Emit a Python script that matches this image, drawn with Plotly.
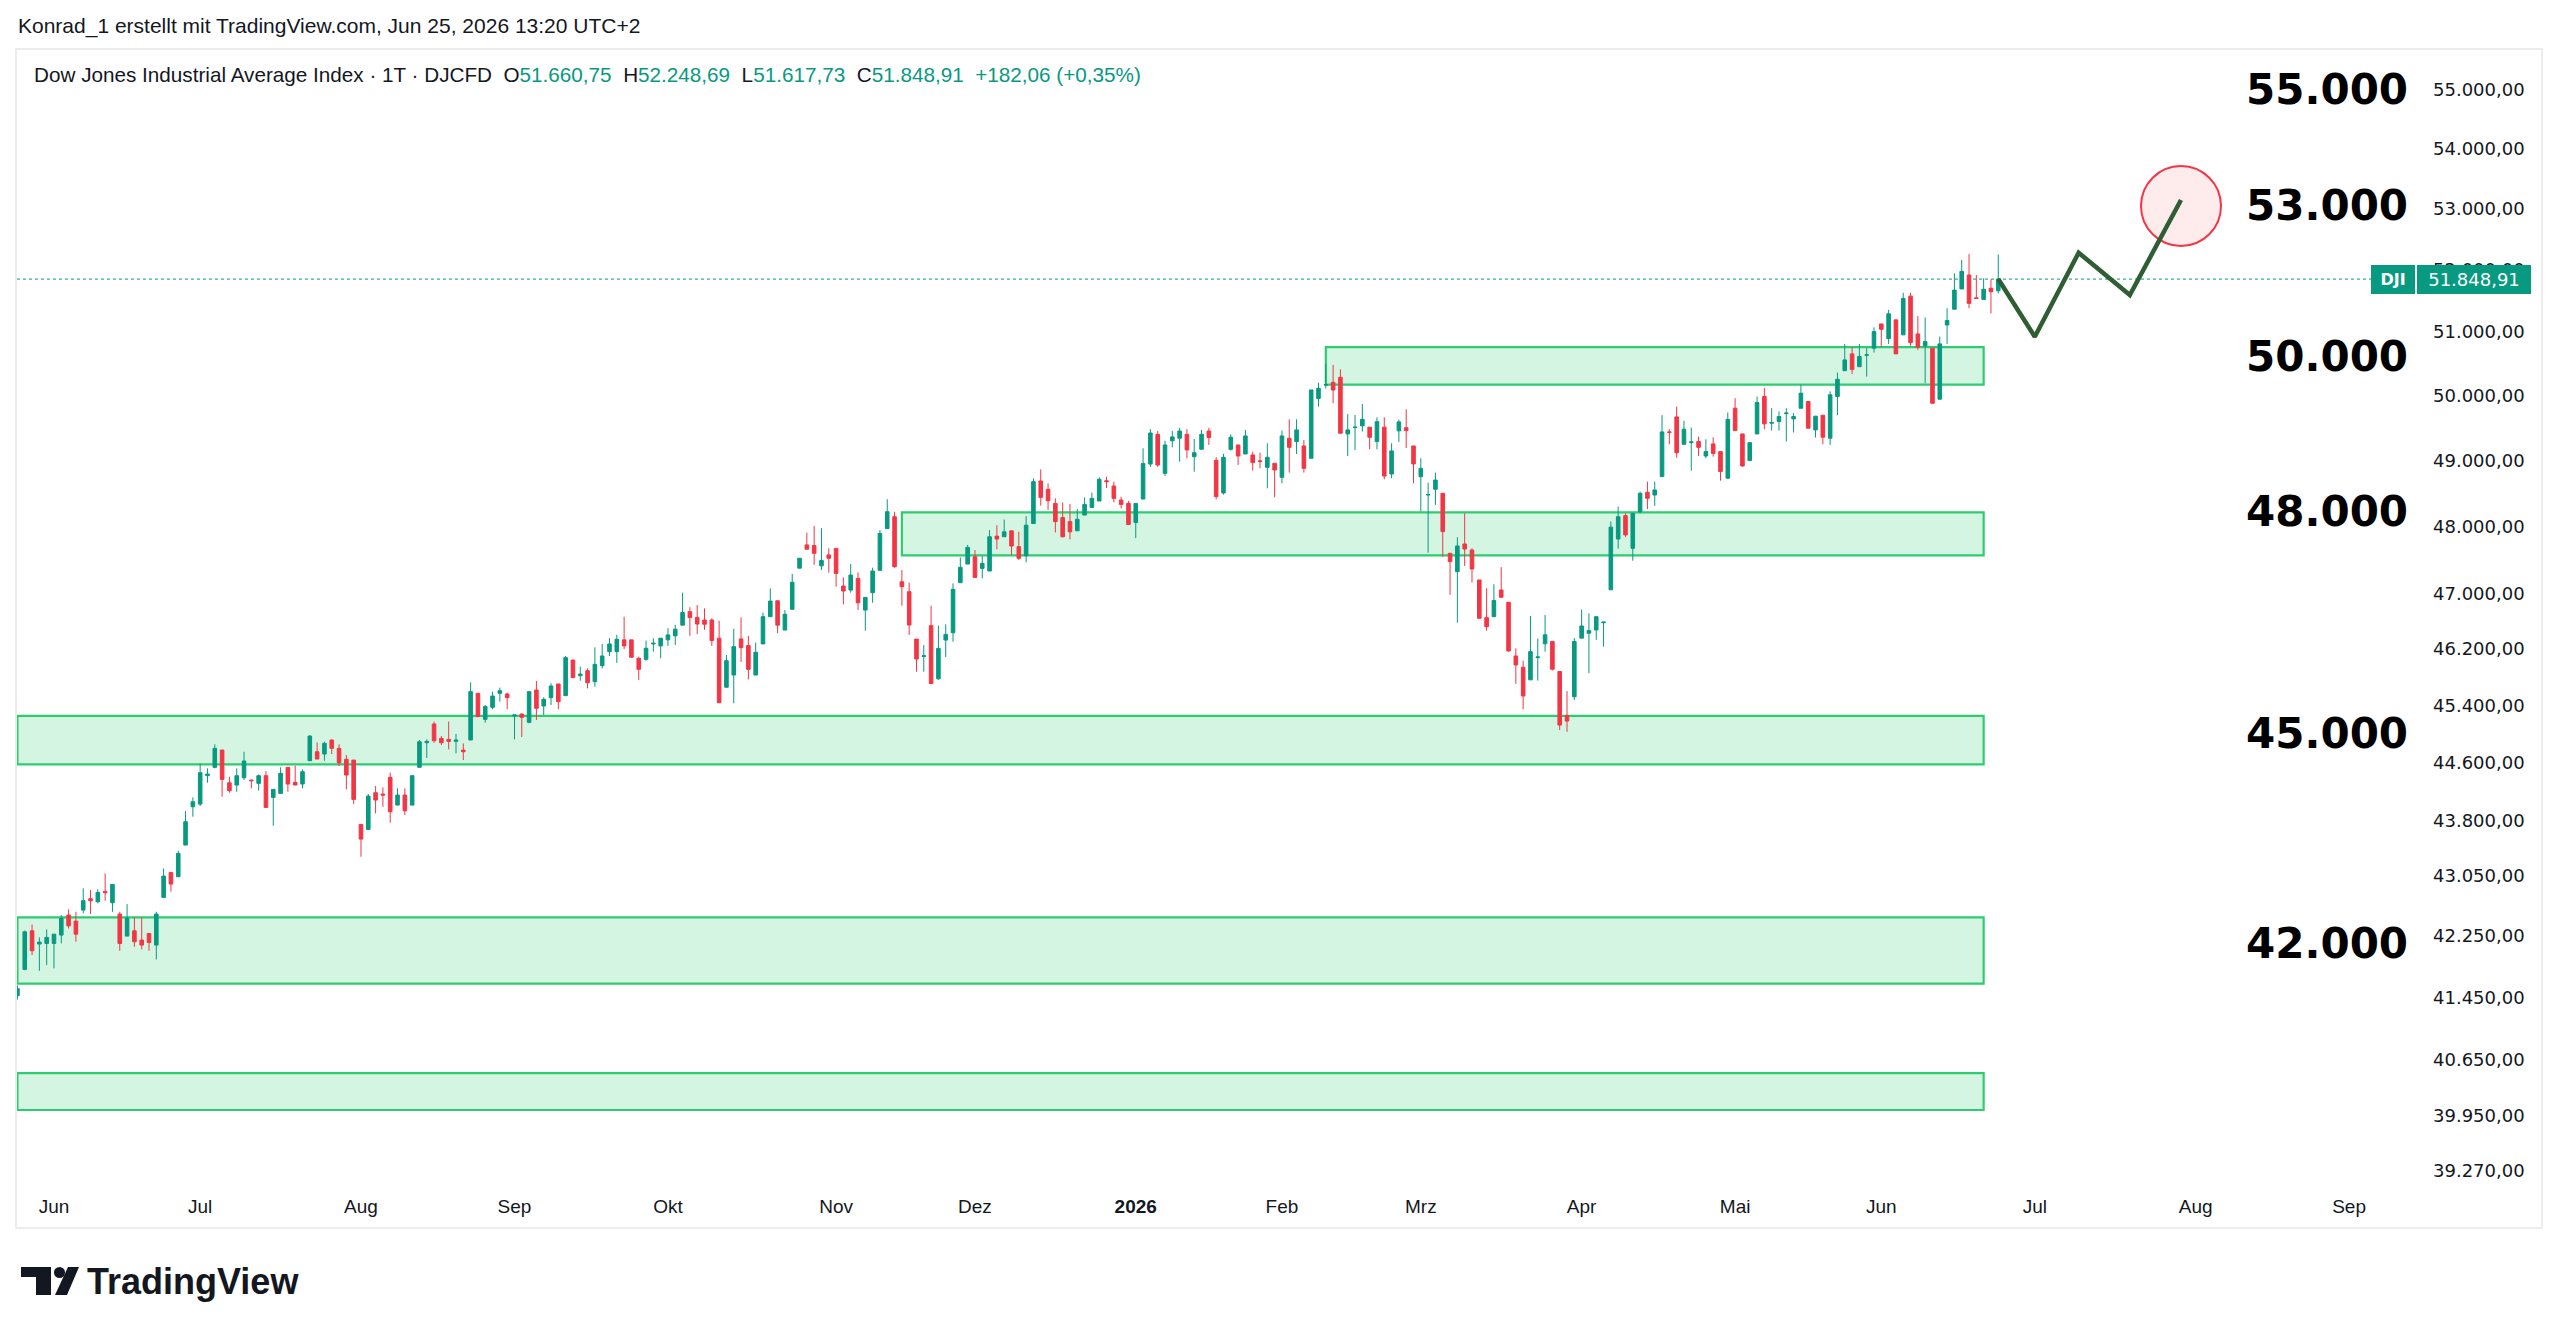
import math
import pandas as pd
import plotly.graph_objects as go

# ---------------- colours ----------------
GREEN = "#089981"
RED = "#F23645"
TEXT = "#131722"
ZONE_LINE = "#2ecc71"
ZONE_FILL = "rgba(46,204,113,0.20)"
PROJ = "#2F5E34"

# ---------------- trading calendar (categories) ----------------
holidays = ["2025-05-26", "2025-06-19", "2025-07-04", "2025-09-01", "2025-11-27",
            "2025-12-25", "2026-01-01", "2026-01-19", "2026-02-16", "2026-04-03",
            "2026-05-25", "2026-06-19", "2026-07-03", "2026-09-07"]
calendar = [d.strftime("%Y-%m-%d") for d in pd.bdate_range("2025-05-23", "2026-09-30")
            if d.strftime("%Y-%m-%d") not in holidays]

# ---------------- OHLC (daily, 23 May 2025 .. 24 Jun 2026) ----------------
open_ = [
    41470, 41811, 42317, 42142, 42150,
    42150, 42260, 42525, 42445, 42591, 42742, 42702, 42840, 42689, 42538,
    42247, 42317, 42195, 42282, 42129, 42760, 43094, 43036, 43463, 43985,
    44022, 44413, 44529, 44770, 44316, 44284, 44385, 44353, 44307, 44413,
    44114, 44169, 44529, 44321, 44298, 44621, 44746, 44714, 44909, 44793,
    44640, 44630, 43744, 43676, 44178, 44160, 44390, 44008, 44146, 44008,
    44529, 44872, 45135, 44933, 44919, 44891, 44769, 44910, 45568, 45200,
    45370, 45568, 45559, 45250, 45276, 45158, 45615, 45389, 45507, 45701,
    45535, 46044, 45819, 45891, 45734, 45963, 46164, 46164, 46334, 46334,
    46068, 46054, 46275, 46247, 46334, 46392, 46547, 46743, 46660, 46622,
    46622, 46358, 45654, 45829, 46348, 46251, 45829, 46275, 46670, 46902,
    46476, 46778, 47381, 47726, 47716, 47415, 47577, 47674, 47118, 47059,
    47230, 46766, 47020, 47349, 47970, 48147, 47181, 47035, 46345, 46095,
    46540, 45775, 46331, 46437, 47167, 47442, 47550, 47378, 47339, 47857,
    47847, 47936, 47700, 47565, 48045, 48686, 48560, 48347, 48134, 48074,
    47936, 48172, 48287, 48383, 48690, 48610, 48398, 48347, 48060, 48413,
    48944, 49400, 48802, 49300, 49340, 49400, 49057, 49170, 49450, 49000,
    48506, 49169, 49236, 49098, 49083, 48992, 48894, 48956, 48742, 49339,
    49288, 49221, 49032, 49955, 50164, 50207, 50286, 49406, 49504, 49530,
    49510, 49288, 49510, 48793, 49453, 49502, 49221, 48752, 48476, 48561,
    48500, 47601, 47330, 47740, 47650, 47207, 46656, 46670, 47060, 46880,
    46102, 45940, 45760, 46078, 46278, 46311, 45879, 45252, 45520, 46359,
    46430, 46478, 46582, 47063, 47813, 48163, 47675, 48222, 48515, 48474,
    48753, 49437, 49669, 49246, 49272, 49288, 49067, 49252, 49134, 48728,
    49803, 49406, 48997, 49406, 49985, 49571, 49597, 49720, 49638, 49803,
    49907, 49468, 49695, 49340, 49986, 50389, 50654, 50452, 50633, 50744,
    51129, 50895, 51194, 50955, 51574, 50970, 50780, 50744, 49943, 51113,
    51364, 51690, 51915, 51547, 51521, 51700, 51660.75,
]
high = [
    41600, 42320, 42400, 42230, 42335,
    42273, 42525, 42600, 42569, 42880, 42858, 42867, 43080, 42933, 42569,
    42671, 42494, 42494, 42282, 42569, 43148, 43094, 43386, 43926, 44114,
    44584, 44515, 44850, 44770, 44400, 44515, 44746, 44353, 44431, 44477,
    44224, 44529, 44529, 44552, 44501, 44979, 44876, 44886, 44919, 44850,
    44700, 44630, 43744, 44160, 44270, 44252, 44455, 44238, 44238, 44422,
    44909, 44919, 45168, 44966, 45168, 44994, 44863, 45725, 45568, 45403,
    45592, 45649, 45578, 45262, 45276, 45592, 45744, 45512, 45711, 45701,
    46102, 46044, 45948, 45924, 46226, 46275, 46358, 46406, 46670, 46334,
    46092, 46324, 46358, 46358, 46503, 46551, 47021, 46808, 46840, 46790,
    46646, 46612, 46116, 46493, 46660, 46392, 46295, 46730, 47084, 46902,
    46768, 47296, 47528, 47909, 48008, 47975, 47676, 47674, 47245, 47442,
    47319, 46952, 47388, 47946, 48409, 48222, 47353, 47167, 46345, 46259,
    46830, 46540, 46559, 47157, 47541, 47724, 47650, 47560, 47946, 48020,
    48104, 47936, 47921, 48155, 48726, 48863, 48651, 48423, 48363, 48337,
    48262, 48438, 48509, 48742, 48752, 48676, 48448, 48383, 48347, 49185,
    49480, 49450, 49300, 49450, 49500, 49480, 49330, 49470, 49500, 49050,
    49100, 49400, 49236, 49468, 49134, 49118, 49262, 48956, 49457, 49631,
    49631, 49313, 50087, 50201, 50500, 50480, 50410, 49713, 49698, 49869,
    49510, 49662, 49662, 49262, 49626, 49786, 49221, 49032, 48661, 48813,
    48500, 47601, 47840, 48198, 47675, 47207, 47085, 47143, 47396, 46880,
    46212, 46036, 46680, 46354, 46694, 46311, 45879, 45600, 46359, 46775,
    46718, 46670, 46592, 48075, 48300, 48198, 48198, 48525, 48676, 48677,
    49695, 49478, 49830, 49608, 49504, 49365, 49324, 49355, 49134, 49736,
    49959, 49406, 49272, 49985, 50117, 49803, 49754, 49803, 49728, 50170,
    49907, 49680, 49695, 50065, 50359, 50811, 50760, 50811, 50744, 51075,
    51129, 51354, 51194, 51627, 51627, 51254, 51232, 50744, 50927, 51380,
    51942, 52158, 52255, 51915, 51862, 51845, 52248.69,
]
low = [
    41420, 41800, 41998, 41793, 41867,
    41824, 42150, 42348, 42173, 42547, 42538, 42680, 42716, 42569, 42055,
    42247, 42107, 42072, 42055, 41941, 42760, 42836, 43036, 43463, 43849,
    43994, 44316, 44515, 44123, 44178, 44192, 44353, 44238, 44206, 43976,
    43726, 44169, 44192, 44284, 44238, 44621, 44644, 44621, 44714, 44547,
    44224, 44022, 43305, 43676, 43894, 43985, 43767, 44008, 43871, 44008,
    44529, 44659, 44872, 44840, 44779, 44723, 44630, 44910, 45238, 45153,
    45342, 45450, 45342, 44919, 44952, 45144, 45191, 45262, 45403, 45342,
    45535, 45791, 45748, 45639, 45663, 45924, 46102, 46004, 46198, 46083,
    45758, 46034, 46164, 46068, 46247, 46261, 46547, 46392, 46417, 46480,
    46247, 45436, 45654, 45427, 46015, 45767, 45829, 46275, 46670, 46431,
    46476, 46778, 47381, 47662, 47430, 47355, 47316, 47108, 46849, 47020,
    46766, 46467, 46873, 47349, 47970, 47388, 46830, 46404, 45876, 45876,
    45708, 45760, 46086, 46307, 47167, 47442, 47245, 47230, 47339, 47660,
    47847, 47576, 47501, 47467, 48045, 48313, 48247, 47911, 47837, 47808,
    47936, 48172, 48287, 48383, 48580, 48363, 48272, 48030, 47827, 48413,
    48900, 48900, 48762, 49200, 48980, 49030, 48827, 49170, 49236, 48410,
    48480, 49150, 48930, 49098, 48843, 48879, 48575, 48439, 48651, 48813,
    49098, 48813, 49032, 49828, 50108, 49880, 49416, 49067, 49159, 49442,
    49169, 49169, 48711, 48727, 49283, 49190, 48651, 48228, 47610, 48325,
    47551, 46988, 46583, 47414, 47168, 46646, 46466, 46670, 46953, 46164,
    45702, 45342, 45760, 45750, 46164, 45893, 45049, 45025, 45473, 46359,
    45855, 46335, 46236, 47063, 47670, 47845, 47491, 48198, 48260, 48309,
    48753, 49246, 49040, 49246, 48843, 49067, 49032, 49057, 48691, 48728,
    49457, 48905, 48997, 49406, 49478, 49457, 49457, 49288, 49427, 49803,
    49494, 49350, 49248, 49237, 49695, 50389, 50338, 50452, 50296, 50675,
    50760, 50811, 50654, 50955, 50780, 50718, 50193, 49880, 49943, 50812,
    51364, 51690, 51380, 51537, 51521, 51297, 51617.73,
]
close = [
    41560, 42304, 42055, 42168, 42230,
    42273, 42481, 42383, 42273, 42716, 42716, 42827, 42822, 42933, 42150,
    42485, 42173, 42129, 42164, 42538, 43045, 42938, 43350, 43780, 44054,
    44455, 44436, 44793, 44362, 44206, 44413, 44617, 44344, 44413, 43976,
    44224, 44446, 44298, 44284, 44468, 44965, 44644, 44863, 44793, 44593,
    44422, 44086, 43544, 44132, 44077, 44146, 43917, 44146, 43930, 44413,
    44886, 44891, 44900, 44872, 44891, 44910, 44746, 45592, 45238, 45380,
    45530, 45606, 45507, 45262, 45229, 45592, 45356, 45483, 45672, 45450,
    46078, 45791, 45843, 45720, 45982, 46102, 46275, 46343, 46247, 46083,
    45910, 46213, 46285, 46358, 46406, 46489, 46731, 46657, 46563, 46560,
    46324, 45436, 46034, 46236, 46222, 45910, 46155, 46670, 46897, 46547,
    46705, 47173, 47528, 47662, 47601, 47494, 47528, 47304, 47045, 47280,
    46873, 46952, 47339, 47896, 48222, 47403, 47108, 46549, 46058, 46105,
    45708, 46211, 46413, 47069, 47393, 47689, 47245, 47452, 47847, 47813,
    47921, 47709, 47526, 48020, 48676, 48438, 48388, 48074, 47847, 47921,
    48109, 48332, 48423, 48712, 48676, 48423, 48332, 48030, 48347, 48951,
    49420, 48930, 49236, 49360, 49450, 49160, 49118, 49400, 49350, 48450,
    49047, 49354, 49067, 49375, 48966, 48986, 49047, 48853, 49375, 49200,
    49468, 48879, 50087, 50113, 50170, 50087, 49416, 49468, 49510, 49631,
    49354, 49595, 48762, 49144, 49591, 49457, 48945, 48879, 48480, 48701,
    47924, 47478, 47710, 47665, 47370, 46646, 46525, 46905, 46953, 46174,
    45973, 45530, 46164, 46088, 46407, 45912, 45120, 45176, 46311, 46535,
    46468, 46670, 46592, 47991, 48148, 47875, 48198, 48500, 48424, 48550,
    49437, 49430, 49117, 49478, 49283, 49200, 49134, 49107, 48830, 49630,
    49457, 48915, 49272, 49891, 49561, 49582, 49675, 49728, 49675, 50037,
    49494, 49680, 49355, 50012, 50254, 50559, 50410, 50612, 50639, 51007,
    51044, 51290, 50654, 51537, 50832, 50760, 50848, 49880, 50812, 51183,
    51671, 51974, 51458, 51537, 51684, 51645, 51848.91,
]
dates = calendar[:len(close)]
last_close = close[-1]

# ---------------- drawings ----------------
zone_low = [50170, 47570, 44570, 41625, 40018]
zone_high = [50760, 48213, 45249, 42494, 40481]
zone_start = ["2026-02-10", "2025-11-14", "2025-05-23", "2025-05-23", "2025-05-23"]
zone_end = ["2026-06-22"] * 5

proj_dates = ["2026-06-24", "2026-07-01", "2026-07-10", "2026-07-21", "2026-07-30"]
proj_values = [51848.91, 50926, 52277, 51592, 53142]
# target circle: centre date, price span (bottom, top)
target_date = "2026-07-30"
target_low, target_high = 52386, 53709

big_labels = ["55.000", "53.000", "50.000", "48.000", "45.000", "42.000"]
big_label_y = [55000, 53050, 50610, 48230, 45000, 42150]

price_ticks = [55000, 54000, 53000, 52000, 51000, 50000, 49000, 48000, 47000, 46200,
               45400, 44600, 43800, 43050, 42250, 41450, 40650, 39950, 39270]


def de_num(v):
    s = f"{v:,.2f}"
    return s.replace(",", "X").replace(".", ",").replace("X", ".")


price_text = [de_num(v) for v in price_ticks]

month_starts = ["2025-06-02", "2025-07-01", "2025-08-01", "2025-09-02", "2025-10-01",
                "2025-11-03", "2025-12-01", "2026-01-02", "2026-02-02", "2026-03-02",
                "2026-04-01", "2026-05-01", "2026-06-01", "2026-07-01", "2026-08-03",
                "2026-09-01"]
month_labels = ["Jun", "Jul", "Aug", "Sep", "Okt", "Nov", "Dez", "<b>2026</b>", "Feb",
                "Mrz", "Apr", "Mai", "Jun", "Jul", "Aug", "Sep"]

# ---------------- layout geometry (pixels) ----------------
W, H = 2560, 1335
PL, PR, PT, PB = 17, 2420, 49, 1187


def fx(px):
    return (px - PL) / (PR - PL)


def fy(py):
    return (PB - py) / (PB - PT)


fig = go.Figure()

fig.add_trace(go.Candlestick(
    x=dates, open=open_, high=high, low=low, close=close,
    increasing=dict(line=dict(color=GREEN, width=1), fillcolor=GREEN),
    decreasing=dict(line=dict(color=RED, width=1), fillcolor=RED),
    whiskerwidth=0, name="DJI", showlegend=False,
))

fig.add_trace(go.Scatter(
    x=proj_dates, y=proj_values, mode="lines",
    line=dict(color=PROJ, width=4.5), showlegend=False, hoverinfo="skip",
))

shapes = []
for lo, hi, s, e in zip(zone_low, zone_high, zone_start, zone_end):
    shapes.append(dict(type="rect", xref="x", yref="y", x0=s, x1=e, y0=lo, y1=hi,
                       fillcolor=ZONE_FILL, line=dict(color=ZONE_LINE, width=2.2),
                       layer="below"))

# last price dotted line
shapes.append(dict(type="line", xref="paper", yref="y", x0=0, x1=fx(2371),
                   y0=last_close, y1=last_close,
                   line=dict(color=GREEN, width=1, dash="dot"), layer="below"))

# target circle
shapes.append(dict(type="circle", xref="x", yref="y", xsizemode="pixel",
                   xanchor=target_date, x0=-40, x1=40,
                   y0=target_low, y1=target_high,
                   fillcolor="rgba(242,54,69,0.10)", line=dict(color=RED, width=2),
                   layer="below"))

# outer frame
shapes.append(dict(type="rect", xref="paper", yref="paper", x0=fx(16), x1=fx(2542),
                   y0=fy(1228), y1=fy(49), line=dict(color="#ececec", width=2),
                   fillcolor="rgba(0,0,0,0)", layer="above"))


# TradingView logo (paper-space path)
def path(points):
    return "M " + " L ".join(f"{fx(a):.5f},{fy(b):.5f}" for a, b in points) + " Z"


shapes.append(dict(type="path", xref="paper", yref="paper",
                   path=path([(21, 1267), (51, 1267), (51, 1295), (36, 1295), (36, 1277), (21, 1277)]),
                   fillcolor="#131722", line=dict(width=0), layer="above"))
shapes.append(dict(type="circle", xref="paper", yref="paper",
                   x0=fx(54), x1=fx(65), y0=fy(1278), y1=fy(1267),
                   fillcolor="#131722", line=dict(width=0), layer="above"))
shapes.append(dict(type="path", xref="paper", yref="paper",
                   path=path([(68, 1267), (79, 1267), (67, 1295), (55, 1295)]),
                   fillcolor="#131722", line=dict(width=0), layer="above"))

annotations = []
FONT = "Liberation Sans, Arial, sans-serif"

annotations.append(dict(xref="paper", yref="paper", x=fx(16), y=fy(26), xanchor="left",
                        yanchor="middle", showarrow=False,
                        text="Konrad_1 erstellt mit TradingView.com, Jun 25, 2026 13:20 UTC+2",
                        font=dict(family=FONT, size=21, color=TEXT)))

nb = "\u00a0"


def teal(s):
    return f"<span style='color:{GREEN}'>{s}</span>"


legend_text = (f"Dow Jones Industrial Average Index · 1T · DJCFD{nb}{nb}"
               f"O{teal('51.660,75')}{nb}{nb}H{teal('52.248,69')}{nb}{nb}"
               f"L{teal('51.617,73')}{nb}{nb}C{teal('51.848,91')}{nb}{nb}"
               f"{teal('+182,06 (+0,35%)')}")
annotations.append(dict(xref="paper", yref="paper", x=fx(32), y=fy(75), xanchor="left",
                        yanchor="middle", showarrow=False, text=legend_text,
                        font=dict(family=FONT, size=20.7, color=TEXT)))

for lab, yv in zip(big_labels, big_label_y):
    annotations.append(dict(xref="paper", yref="y", x=fx(2410), y=math.log10(yv),
                            xanchor="right", yanchor="middle", showarrow=False,
                            text=f"<b>{lab}</b>",
                            font=dict(family="DejaVu Sans, sans-serif", size=42, color="#000000")))

# price label (symbol + last price) on the price scale
annotations.append(dict(xref="paper", yref="y", x=fx(2371), y=math.log10(last_close),
                        xanchor="left", yanchor="middle", showarrow=False,
                        width=44, height=29, borderpad=0, borderwidth=0, bgcolor=GREEN,
                        text="<b>DJI</b>", align="center",
                        font=dict(family="DejaVu Sans, sans-serif", size=16, color="white")))
annotations.append(dict(xref="paper", yref="y", x=fx(2417), y=math.log10(last_close),
                        xanchor="left", yanchor="middle", showarrow=False,
                        width=114, height=29, borderpad=0, borderwidth=0, bgcolor=GREEN,
                        text=de_num(last_close), align="center",
                        font=dict(family="DejaVu Sans, sans-serif", size=18, color="white")))

annotations.append(dict(xref="paper", yref="paper", x=fx(85), y=fy(1281), xanchor="left",
                        yanchor="middle", showarrow=False, text="<b>TradingView</b>",
                        font=dict(family=FONT, size=36, color=TEXT)))

ymin, ymax = 39069, 55704
fig.update_layout(
    width=W, height=H,
    margin=dict(l=PL, r=W - PR, t=PT, b=H - PB, pad=0),
    paper_bgcolor="white", plot_bgcolor="white",
    showlegend=False, boxgap=0.3,
    shapes=shapes, annotations=annotations,
    xaxis=dict(type="category", categoryorder="array", categoryarray=calendar,
               range=[-0.06, 328.7], rangeslider=dict(visible=False),
               tickmode="array", tickvals=month_starts, ticktext=month_labels,
               showgrid=False, zeroline=False, showline=False, ticks="",
               ticklabelstandoff=6,
               tickfont=dict(family=FONT, size=19, color=TEXT), fixedrange=True),
    yaxis=dict(type="log", side="right", range=[math.log10(ymin), math.log10(ymax)],
               tickmode="array", tickvals=price_ticks, ticktext=price_text,
               showgrid=False, zeroline=False, showline=False, ticks="",
               ticklabelstandoff=12,
               tickfont=dict(family="DejaVu Sans, sans-serif", size=18, color=TEXT)),
    hovermode=False,
)

fig.write_html("out.html", config={"displayModeBar": False})
